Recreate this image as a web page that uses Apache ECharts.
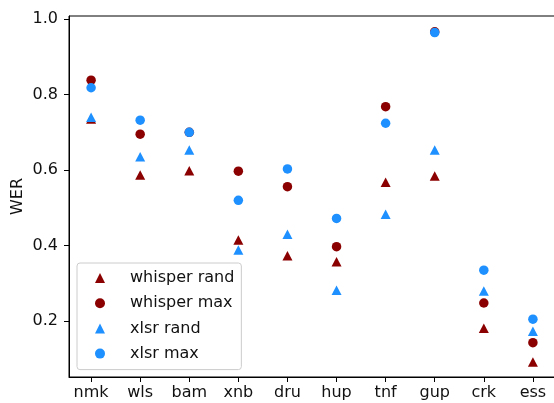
<!DOCTYPE html>
<html>
<head>
<meta charset="utf-8">
<script src="https://cdn.jsdelivr.net/npm/echarts@6/dist/echarts.min.js"></script>
<style>html,body{margin:0;padding:0;background:#fff}#c{width:554px;height:403px}</style>
</head>
<body>
<div id="c"></div>
<script>
const categories = ['nmk','wls','bam','xnb','dru','hup','tnf','gup','crk','ess'];
const whisperRand = [0.735,0.587,0.598,0.415,0.373,0.357,0.568,0.584,0.181,0.092];
const whisperMax  = [0.838,0.695,0.700,0.597,0.556,0.397,0.768,0.966,0.248,0.143];
const xlsrRand    = [0.740,0.635,0.653,0.388,0.430,0.282,0.483,0.653,0.280,0.173];
const xlsrMax     = [0.818,0.732,0.700,0.520,0.603,0.472,0.724,0.964,0.335,0.205];
const yTicks = [0.2,0.4,0.6,0.8,1.0];
const seriesNames = ['whisper rand','whisper max','xlsr rand','xlsr max'];

const RED = '#8B0000', BLUE = '#1E90FF';
const FONT = 'DejaVu Sans';
const idx = categories.map((_, i) => i);
const pts = arr => arr.map((v, i) => [i, v]);

function mk(name, data, color, symbol) {
  return {
    name, type: 'scatter', data: pts(data),
    symbol, symbolSize: symbol === 'triangle' ? [10, 9.5] : 9.5,
    itemStyle: { color, opacity: 1 },
    emphasis: { disabled: true }, animation: false
  };
}

const chart = echarts.init(document.getElementById('c'), null, { renderer: 'canvas' });
chart.setOption({
  animation: false,
  textStyle: { fontFamily: FONT },
  grid: { left: 69, top: 16, right: -1, bottom: 26, containLabel: false, outerBoundsMode: 'none',
          show: true, borderColor: '#000', borderWidth: 1, backgroundColor: 'transparent' },
  xAxis: {
    type: 'value', min: -0.45, max: 9.45,
    axisLine: { show: true, onZero: false, lineStyle: { color: '#000', width: 1 } },
    axisTick: { show: true, customValues: idx, length: 5, lineStyle: { color: '#000' } },
    axisLabel: { customValues: idx, formatter: v => categories[Math.round(v)], color: '#111', fontSize: 16, fontFamily: FONT, margin: 8 },
    splitLine: { show: false }
  },
  yAxis: {
    type: 'value', min: 0.052, max: 1.008,
    name: 'WER', nameLocation: 'middle', nameGap: 43, nameMoveOverlap: false,
    nameTextStyle: { color: '#111', fontSize: 16, fontFamily: FONT },
    axisLine: { show: true, onZero: false, lineStyle: { color: '#000', width: 1 } },
    axisTick: { show: true, customValues: yTicks, length: 5, lineStyle: { color: '#000' } },
    axisLabel: { customValues: yTicks, formatter: v => v.toFixed(1), color: '#111', fontSize: 16, fontFamily: FONT, margin: 11 },
    splitLine: { show: false }
  },
  legend: {
    data: seriesNames,
    orient: 'vertical', left: 77, top: 263,
    padding: [6, 7, 7, 18],
    itemWidth: 10, itemHeight: 10, itemGap: 7.2,
    backgroundColor: 'rgba(255,255,255,0.8)', borderColor: '#ccc', borderWidth: 1, borderRadius: 3,
    textStyle: { color: '#111', fontSize: 16, fontFamily: FONT, lineHeight: 18, padding: [0, 0, 0, 20] },
    selectedMode: false
  },
  series: [
    mk(seriesNames[0], whisperRand, RED, 'triangle'),
    mk(seriesNames[1], whisperMax, RED, 'circle'),
    mk(seriesNames[2], xlsrRand, BLUE, 'triangle'),
    mk(seriesNames[3], xlsrMax, BLUE, 'circle')
  ]
});
</script>
</body>
</html>
